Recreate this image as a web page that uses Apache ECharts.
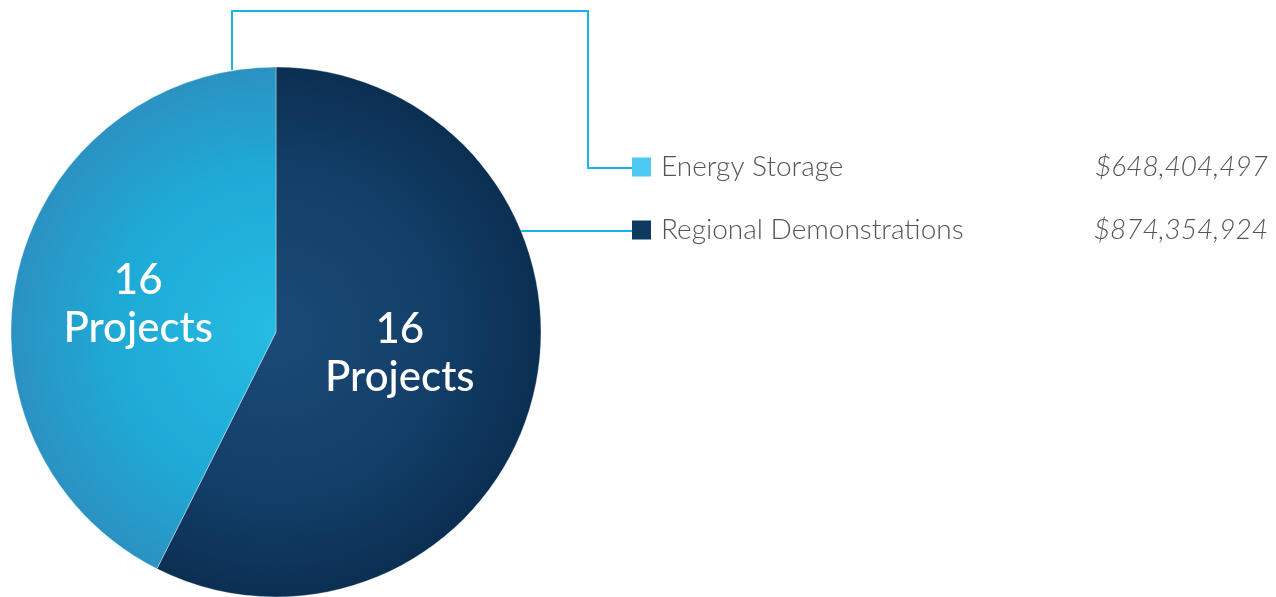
<!DOCTYPE html>
<html>
<head>
<meta charset="utf-8">
<script src="https://cdn.jsdelivr.net/npm/echarts@6/dist/echarts.min.js"></script>
<style>
html,body{margin:0;padding:0;background:#fff;}
#chart{width:1276px;height:597px;}
</style>
</head>
<body>
<div id="chart"></div>
<script>
// Data
const categories = ['Regional Demonstrations', 'Energy Storage'];
const funding = [874354924, 648404497];
const projects = [16, 16];
const legendOrder = ['Energy Storage', 'Regional Demonstrations'];

const CX = 276, CY = 332, R = 265;
const sliceColors = {
  'Regional Demonstrations': {
    type: 'radial', x: CX, y: CY, r: R, global: true,
    colorStops: [{offset: 0, color: '#1b4a77'}, {offset: 0.6, color: '#133f69'}, {offset: 1, color: '#0b2f52'}]
  },
  'Energy Storage': {
    type: 'radial', x: CX, y: CY, r: R, global: true,
    colorStops: [{offset: 0, color: '#25bce4'}, {offset: 0.6, color: '#1eaad6'}, {offset: 1, color: '#2b92c2'}]
  }
};
const legendColors = {'Energy Storage': '#4ec9f2', 'Regional Demonstrations': '#0e3a61'};
const labelOffsets = {'Regional Demonstrations': [-8, -10], 'Energy Storage': [-6, 4]};

function fmtMoney(v) {
  return '$' + v.toString().replace(/\B(?=(\d{3})+(?!\d))/g, ',');
}

const chart = echarts.init(document.getElementById('chart'));
chart.setOption({
  animation: false,
  legend: {
    orient: 'vertical',
    left: 632,
    top: 153,
    padding: 0,
    itemWidth: 19,
    itemHeight: 19,
    itemGap: 35,
    icon: 'rect',
    data: legendOrder.map(n => ({name: n, itemStyle: {color: legendColors[n], borderWidth: 0}})),
    formatter: function (name) {
      const i = categories.indexOf(name);
      return '{n|' + name + '}{v|' + fmtMoney(funding[i]) + '}';
    },
    textStyle: {
      padding: [0, 0, 0, 5],
      rich: {
        n: {fontFamily: 'Lato', fontWeight: 300, fontSize: 28, color: '#555', width: 430, lineHeight: 30},
        v: {fontFamily: 'Lato', fontWeight: 300, fontStyle: 'italic', fontSize: 28, color: '#555', width: 177, align: 'right', lineHeight: 30}
      }
    },
    selectedMode: false
  },
  graphic: [
    {type: 'polyline', silent: true, z: 0, shape: {points: [[232, 70], [232, 11], [588, 11], [588, 168], [632, 168]]},
     style: {stroke: '#19b3e8', lineWidth: 2, fill: null}},
    {type: 'polyline', silent: true, z: 0, shape: {points: [[521, 231], [632, 231]]},
     style: {stroke: '#19b3e8', lineWidth: 2, fill: null}}
  ],
  series: [{
    type: 'pie',
    center: [CX, CY],
    radius: [0, R],
    startAngle: 90,
    clockwise: true,
    z: 3,
    data: categories.map((c, i) => ({
      name: c,
      value: funding[i],
      itemStyle: {color: sliceColors[c]},
      label: {offset: labelOffsets[c]}
    })),
    itemStyle: {borderColor: 'rgba(255,255,255,0.35)', borderWidth: 1},
    label: {
      show: true,
      position: 'inside',
      formatter: function (p) { return projects[p.dataIndex] + '\nProjects'; },
      color: '#fff',
      fontFamily: 'Lato',
      fontWeight: 500,
      fontSize: 42,
      lineHeight: 48,
      align: 'center'
    },
    labelLine: {show: false},
    emphasis: {disabled: true}
  }]
});
</script>
</body>
</html>
